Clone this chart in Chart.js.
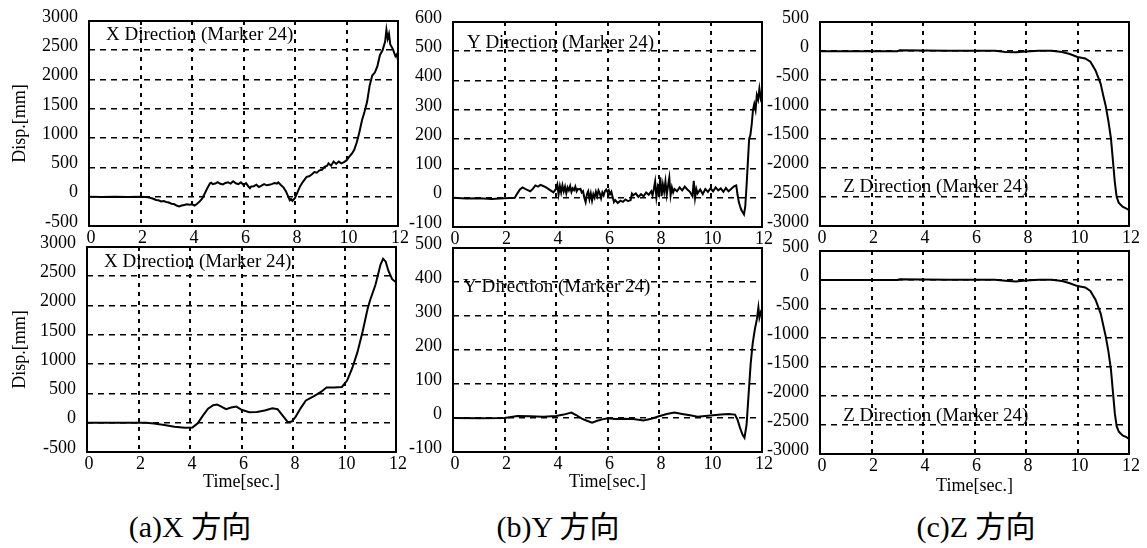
<!DOCTYPE html>
<html><head><meta charset="utf-8">
<script src="https://cdn.jsdelivr.net/npm/chart.js@4.4.0/dist/chart.umd.min.js"></script>
<style>
html,body{margin:0;padding:0;background:#fff;width:1147px;height:548px;overflow:hidden;position:relative;}
canvas{position:absolute;}
.cap{position:absolute;top:502px;font-family:"Liberation Serif","Noto Sans CJK JP",serif;font-size:30px;color:#000;white-space:pre;transform:translateX(-50%);}
</style></head>
<body>
<canvas id="a1"></canvas><canvas id="b1"></canvas><canvas id="c1"></canvas>
<canvas id="a2"></canvas><canvas id="b2"></canvas><canvas id="c2"></canvas>
<div class="cap" id="capA" style="left:190px"></div>
<div class="cap" id="capB" style="left:558px"></div>
<div class="cap" id="capC" style="left:976px"></div>
<script>
// ---------- data ----------
const timeTicks = [0, 2, 4, 6, 8, 10, 12];
const xDirTicks = [-500, 0, 500, 1000, 1500, 2000, 2500, 3000];
const yDirTopTicks = [-100, 0, 100, 200, 300, 400, 500, 600];
const yDirBottomTicks = [-100, 0, 100, 200, 300, 400, 500];
const zDirTicks = [-3000, -2500, -2000, -1500, -1000, -500, 0, 500];

const panelNotes = ["X Direction (Marker 24)", "Y Direction (Marker 24)", "Z Direction (Marker 24)"];
const captions = ["(a)X 方向", "(b)Y 方向", "(c)Z 方向"];
const timeTitle = "Time[sec.]";
const dispTitle = "Disp.[mm]";

// (a) X direction, top (noisy)
const timeXTop = [
  0,0.5,1,1.5,2,2.3,2.5,2.6,2.7,2.8,
  2.9,3.0,3.1,3.2,3.3,3.4,3.5,3.6,3.7,3.8,
  3.9,4.0,4.1,4.2,4.3,4.4,4.5,4.6,4.7,4.75,
  4.8,4.9,5.0,5.1,5.2,5.3,5.4,5.5,5.6,5.7,
  5.8,5.9,6.0,6.1,6.2,6.25,6.3,6.4,6.5,6.6,
  6.7,6.8,6.9,7.0,7.1,7.2,7.3,7.35,7.45,7.55,
  7.65,7.72,7.8,7.85,7.9,8.0,8.1,8.2,8.3,8.4,
  8.45,8.55,8.65,8.75,8.85,8.95,9.05,9.15,9.25,9.3,
  9.4,9.5,9.6,9.7,9.8,9.9,10.0,10.1,10.2,10.3,
  10.4,10.5,10.6,10.7,10.8,10.9,11.0,11.1,11.2,11.3,
  11.4,11.5,11.55,11.6,11.65,11.7,11.8,11.9,11.95,12.0];
const dispXTop = [
  0,-5,0,-5,0,-10,-35,-55,-60,-80,
  -75,-90,-100,-120,-125,-150,-165,-150,-140,-130,
  -135,-130,-150,-120,-80,-30,60,150,230,240,
  215,225,250,220,210,235,245,225,265,230,
  215,245,200,230,170,145,175,180,205,165,
  190,215,195,205,215,235,225,245,200,160,
  90,20,-60,-40,-70,-20,80,180,250,310,
  340,350,380,420,410,450,460,510,530,570,
  530,600,560,600,570,590,620,680,730,800,
  930,1100,1300,1450,1620,1900,2070,2120,2230,2420,
  2500,2650,2850,2700,2780,2600,2520,2400,2430,2330];

// (a) X direction, bottom (smooth)
const timeXBottom = [0,2.3,2.6,3.0,3.4,3.8,4.1,4.3,4.5,4.7,4.9,5.05,5.2,5.4,5.6,5.8,6.0,6.3,6.6,6.9,7.2,7.4,7.6,7.8,7.95,8.1,8.3,8.5,8.8,9.1,9.3,9.6,9.9,10.1,10.3,10.5,10.7,10.9,11.0,11.2,11.4,11.5,11.6,11.7,11.85,12.0];
const dispXBottom = [0,0,-15,-40,-70,-85,-80,-10,120,240,300,310,280,230,260,275,220,180,185,210,245,230,120,10,20,100,250,380,450,530,600,600,610,720,930,1200,1550,1950,2100,2350,2700,2800,2750,2600,2450,2400];

// (b) Y direction, top (noisy)
const timeYTop = [
  0,0.5,1,1.5,2,2.4,2.5,2.6,2.7,2.8,
  2.9,3.0,3.1,3.2,3.3,3.4,3.5,3.6,3.7,3.8,
  3.9,4.0,4.05,4.1,4.15,4.2,4.25,4.3,4.35,4.4,
  4.45,4.5,4.55,4.6,4.65,4.7,4.75,4.8,4.85,4.9,
  4.95,5.0,5.05,5.1,5.15,5.2,5.25,5.3,5.35,5.4,
  5.45,5.5,5.55,5.6,5.65,5.7,5.75,5.8,5.85,5.9,
  5.95,6.0,6.05,6.1,6.15,6.2,6.25,6.3,6.4,6.5,
  6.6,6.7,6.8,6.9,6.95,7.0,7.1,7.2,7.3,7.4,
  7.5,7.6,7.7,7.75,7.8,7.85,7.9,7.95,8.0,8.05,
  8.1,8.15,8.2,8.25,8.3,8.35,8.4,8.45,8.5,8.55,
  8.6,8.7,8.8,8.9,9.0,9.1,9.2,9.3,9.35,9.4,
  9.45,9.5,9.6,9.7,9.8,9.9,10.0,10.1,10.2,10.3,
  10.4,10.5,10.6,10.7,10.8,10.9,11.0,11.05,11.1,11.15,
  11.2,11.25,11.3,11.35,11.4,11.45,11.5,11.55,11.6,11.65,
  11.7,11.75,11.8,11.85,11.9,11.95,12];
const dispYTop = [
  0,-3,-2,-4,-2,0,15,28,35,30,
  26,22,30,42,38,44,40,36,30,24,
  18,30,45,12,40,18,42,22,38,15,
  35,25,40,20,32,26,38,22,30,28,
  30,18,22,0,-15,12,22,-5,15,-10,
  12,0,20,5,25,15,-2,18,8,22,
  28,20,26,12,20,2,-15,-8,-18,-10,
  -14,-6,-12,-8,14,8,15,3,12,5,
  18,10,22,8,30,55,2,35,15,70,
  5,45,20,55,10,40,68,8,35,18,
  30,22,35,25,38,28,20,5,58,0,
  30,15,28,12,30,20,32,22,35,25,
  32,20,33,22,30,38,42,10,-15,-30,
  -42,-50,-57,-30,40,120,200,215,250,300,
  320,300,350,335,372,340,355];

// (b) Y direction, bottom (smooth)
const timeYBottom = [0,1,2,2.5,3,3.5,4,4.3,4.6,4.8,5.0,5.2,5.4,5.6,5.8,6.0,6.3,6.6,7.0,7.4,7.7,8.0,8.3,8.6,8.9,9.2,9.5,9.8,10.1,10.4,10.7,10.95,11.05,11.15,11.25,11.32,11.4,11.48,11.56,11.64,11.72,11.8,11.86,11.9,11.95,12];
const dispYBottom = [0,-1,0,6,5,4,6,10,16,8,-2,-8,-14,-8,-4,-1,-3,-2,-3,-7,-2,5,12,16,12,8,4,6,8,10,12,10,-5,-30,-50,-58,-20,70,160,220,260,290,325,295,310,300];

// (c) Z direction, top
const timeZTop = [0,1,2,3,3.1,4,5,6,6.8,7.2,7.6,8.0,8.5,9.0,9.4,9.7,10.0,10.3,10.5,10.7,10.9,11.0,11.1,11.2,11.3,11.38,11.45,11.52,11.6,11.75,11.9,12];
const dispZTop = [0,0,0,0,15,12,8,8,5,-15,-20,-5,8,5,-15,-50,-100,-125,-180,-330,-560,-760,-950,-1200,-1500,-1900,-2250,-2500,-2600,-2670,-2700,-2730];

// (c) Z direction, bottom
const timeZBottom = [0,1,2,3,3.1,4,5,6,6.8,7.2,7.6,8.0,8.5,9.0,9.4,9.7,10.0,10.3,10.5,10.7,10.9,11.0,11.1,11.2,11.3,11.38,11.45,11.52,11.6,11.75,11.9,12];
const dispZBottom = [0,0,0,0,12,10,6,6,3,-12,-25,-8,6,4,-18,-55,-105,-130,-190,-340,-580,-780,-980,-1230,-1550,-1950,-2300,-2520,-2610,-2680,-2710,-2740];

// ---------- rendering ----------
const FONT = '"Liberation Serif", "Times New Roman", serif';
const frame = {
  id: 'frame',
  beforeDatasetsDraw(chart) {
    const {ctx, chartArea: a} = chart;
    ctx.save();
    ctx.lineWidth = 2; ctx.strokeStyle = '#000'; ctx.setLineDash([]);
    ctx.strokeRect(a.left, a.top, a.right - a.left, a.bottom - a.top);
    ctx.restore();
  },
  afterDatasetsDraw(chart, args, opts) {
    if (!opts.text) return;
    const {ctx, scales} = chart;
    ctx.save();
    ctx.font = '19px ' + FONT; ctx.fillStyle = '#000';
    ctx.textAlign = 'left'; ctx.textBaseline = 'middle';
    ctx.fillText(opts.text, scales.x.getPixelForValue(opts.t), scales.y.getPixelForValue(opts.v));
    ctx.restore();
  }
};

function makePanel(id, g) {
  const padTop = 26, padR = 14;
  const cv = document.getElementById(id);
  const w = g.yW + g.W + padR, h = padTop + g.H + g.xH;
  cv.width = w; cv.height = h;
  cv.style.left = (g.L - g.yW) + 'px';
  cv.style.top = (g.T - padTop) + 'px';
  cv.style.width = w + 'px'; cv.style.height = h + 'px';
  const pts = g.times.map((t, i) => ({x: t, y: g.values[i]}));
  new Chart(cv, {
    type: 'line',
    data: { datasets: [{ data: pts, borderColor: '#000', borderWidth: g.lw, pointRadius: 0, tension: 0, fill: false }] },
    options: {
      responsive: false, animation: false, devicePixelRatio: 1,
      layout: { padding: { top: padTop, right: padR, left: 0, bottom: 0 } },
      plugins: { legend: { display: false }, tooltip: { enabled: false }, frame: { text: g.note, t: g.noteT, v: g.noteV } },
      scales: {
        x: {
          type: 'linear', min: 0, max: 12,
          afterBuildTicks: s => { s.ticks = timeTicks.map(v => ({value: v})); },
          afterFit: s => { s.height = g.xH; },
          grid: { color: '#000', lineWidth: 2, drawTicks: false },
          border: { display: false, dash: [4, 5] },
          ticks: { color: '#000', font: { family: FONT, size: 18 }, padding: 1, labelOffset: 2, maxRotation: 0, autoSkip: false, callback: v => String(v) },
          title: { display: !!g.xTitle, text: g.xTitle || '', color: '#000', font: { family: FONT, size: 18 }, padding: { top: 0, bottom: 4 } }
        },
        y: {
          type: 'linear', min: g.yTicks[0], max: g.yTicks[g.yTicks.length - 1],
          afterBuildTicks: s => { s.ticks = g.yTicks.map(v => ({value: v})); },
          afterFit: s => { s.width = g.yW; },
          grid: { color: '#000', lineWidth: 1.6, drawTicks: false },
          border: { display: false, dash: [6, 5] },
          ticks: { color: '#000', font: { family: FONT, size: 18 }, padding: 11, labelOffset: -4, autoSkip: false, callback: v => String(v) },
          title: { display: !!g.yTitle, text: g.yTitle || '', color: '#000', font: { family: FONT, size: 18 }, padding: { top: 9, bottom: 0 } }
        }
      }
    },
    plugins: [frame]
  });
}

makePanel('a1', {L: 89, T: 21, W: 309, H: 205, yW: 89, xH: 28, yTicks: xDirTicks, times: timeXTop, values: dispXTop, lw: 2, note: panelNotes[0], noteT: 0.66, noteV: 2765, yTitle: dispTitle});
makePanel('b1', {L: 453, T: 22, W: 309, H: 205, yW: 60, xH: 28, yTicks: yDirTopTicks, times: timeYTop, values: dispYTop, lw: 2, note: panelNotes[1], noteT: 0.54, noteV: 529});
makePanel('c1', {L: 820, T: 22, W: 309, H: 204, yW: 62, xH: 28, yTicks: zDirTicks, times: timeZTop, values: dispZTop, lw: 2, note: panelNotes[2], noteT: 0.9, noteV: -2330});
makePanel('a2', {L: 87, T: 247, W: 309, H: 205, yW: 87, xH: 45, yTicks: xDirTicks, times: timeXBottom, values: dispXBottom, lw: 2, note: panelNotes[0], noteT: 0.66, noteV: 2750, yTitle: dispTitle, xTitle: timeTitle});
makePanel('b2', {L: 453, T: 248, W: 309, H: 204, yW: 60, xH: 45, yTicks: yDirBottomTicks, times: timeYBottom, values: dispYBottom, lw: 2, note: panelNotes[1], noteT: 0.39, noteV: 385, xTitle: timeTitle});
makePanel('c2', {L: 820, T: 251, W: 309, H: 203, yW: 62, xH: 47, yTicks: zDirTicks, times: timeZBottom, values: dispZBottom, lw: 2, note: panelNotes[2], noteT: 0.9, noteV: -2345, xTitle: timeTitle});

document.getElementById('capA').textContent = captions[0];
document.getElementById('capB').textContent = captions[1];
document.getElementById('capC').textContent = captions[2];
</script>
</body></html>
